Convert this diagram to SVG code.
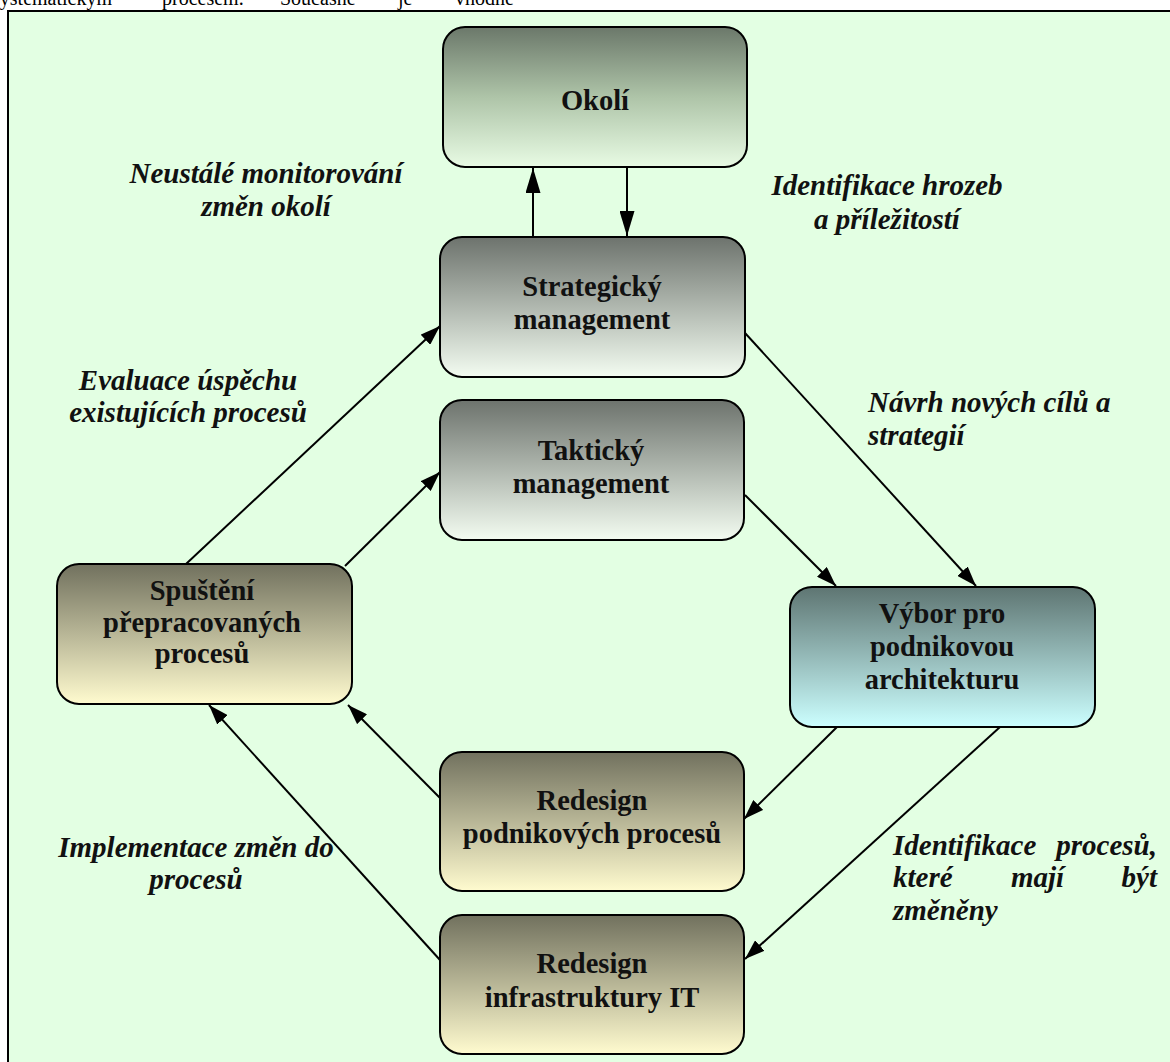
<svg xmlns="http://www.w3.org/2000/svg" width="1170" height="1062" viewBox="0 0 1170 1062">
<defs>
<linearGradient id="gOkoli" x1="0" y1="0" x2="0" y2="1"><stop offset="0" stop-color="#6B786A"/><stop offset="0.5" stop-color="#AEC4A8"/><stop offset="1" stop-color="#E8FBE4"/></linearGradient>
<linearGradient id="gMgmt" x1="0" y1="0" x2="0" y2="1"><stop offset="0" stop-color="#6D736D"/><stop offset="1" stop-color="#F3FCF1"/></linearGradient>
<linearGradient id="gOlive" x1="0" y1="0" x2="0" y2="1"><stop offset="0" stop-color="#71715E"/><stop offset="1" stop-color="#FFFBCF"/></linearGradient>
<linearGradient id="gTeal" x1="0" y1="0" x2="0" y2="1"><stop offset="0" stop-color="#5E7572"/><stop offset="1" stop-color="#CCFFFF"/></linearGradient>
<marker id="arr" markerUnits="userSpaceOnUse" markerWidth="20" markerHeight="14" refX="20" refY="7" orient="auto"><path d="M0,0 L20,7 L0,14 z" fill="#000"/></marker>
<marker id="arrL" markerUnits="userSpaceOnUse" markerWidth="25" markerHeight="15" refX="25" refY="7.5" orient="auto"><path d="M0,0 L25,7.5 L0,15 z" fill="#000"/></marker>
</defs>
<style>
.box{stroke:#000;stroke-width:2}
.nt{font-family:"Liberation Serif","Times New Roman",serif;font-weight:bold;font-size:28.5px;fill:#111;text-anchor:middle}
.lb{font-family:"Liberation Serif","Times New Roman",serif;font-weight:bold;font-style:italic;font-size:29px;fill:#111}
.doc{font-family:"Liberation Serif","Times New Roman",serif;font-size:20px;fill:#000}
.c{stroke:#000;stroke-width:2;fill:none}
</style>
<rect x="0" y="0" width="1170" height="1062" fill="#fff"/>
<g id="doctext" class="doc">
<text x="112" y="5" text-anchor="end">systematickým</text>
<text x="162" y="5">procesem.</text>
<text x="280" y="5">Současně</text>
<text x="398" y="5">je</text>
<text x="455" y="5">vhodné</text>
</g>
<rect id="frame" x="8" y="11" width="1170" height="1060" fill="#E3FFE3" stroke="#000" stroke-width="2"/>
<g id="connectors">
<line class="c" x1="533" y1="237" x2="533" y2="168" marker-end="url(#arrL)"/>
<line class="c" x1="627" y1="165" x2="627" y2="236" marker-end="url(#arrL)"/>
<line class="c" x1="745" y1="333" x2="976" y2="586" marker-end="url(#arr)"/>
<line class="c" x1="745" y1="495" x2="836" y2="586" marker-end="url(#arr)"/>
<line class="c" x1="186" y1="564" x2="440" y2="326" marker-end="url(#arr)"/>
<line class="c" x1="345" y1="566" x2="440" y2="472" marker-end="url(#arr)"/>
<line class="c" x1="837" y1="727" x2="744" y2="819" marker-end="url(#arr)"/>
<line class="c" x1="1000" y1="727" x2="745" y2="959" marker-end="url(#arr)"/>
<line class="c" x1="440" y1="798" x2="348" y2="705" marker-end="url(#arr)"/>
<line class="c" x1="440" y1="960" x2="209" y2="705" marker-end="url(#arr)"/>
</g>
<g id="okoli"><rect class="box" x="443" y="27" width="304" height="140" rx="22" fill="url(#gOkoli)"/><text class="nt" x="595" y="110">Okolí</text></g>
<g id="strategicky"><rect class="box" x="440" y="237" width="305" height="140" rx="22" fill="url(#gMgmt)"/><text class="nt" x="592" y="296">Strategický</text><text class="nt" x="592" y="329">management</text></g>
<g id="takticky"><rect class="box" x="440" y="400" width="304" height="140" rx="22" fill="url(#gMgmt)"/><text class="nt" x="591" y="460">Taktický</text><text class="nt" x="591" y="493">management</text></g>
<g id="spusteni"><rect class="box" x="57" y="564" width="295" height="140" rx="22" fill="url(#gOlive)"/><text class="nt" x="202" y="600">Spuštění</text><text class="nt" x="202" y="632">přepracovaných</text><text class="nt" x="202" y="663">procesů</text></g>
<g id="vybor"><rect class="box" x="790" y="587" width="305" height="140" rx="22" fill="url(#gTeal)"/><text class="nt" x="942" y="623">Výbor pro</text><text class="nt" x="942" y="656">podnikovou</text><text class="nt" x="942" y="689">architekturu</text></g>
<g id="redesign-procesu"><rect class="box" x="440" y="752" width="304" height="139" rx="22" fill="url(#gOlive)"/><text class="nt" x="592" y="810">Redesign</text><text class="nt" x="592" y="843">podnikových procesů</text></g>
<g id="redesign-it"><rect class="box" x="440" y="915" width="304" height="139" rx="22" fill="url(#gOlive)"/><text class="nt" x="592" y="973">Redesign</text><text class="nt" x="592" y="1007">infrastruktury IT</text></g>
<g id="labels" class="lb">
<text x="266" y="183" text-anchor="middle">Neustálé monitorování</text>
<text x="266" y="216" text-anchor="middle">změn okolí</text>
<text x="887" y="195" text-anchor="middle">Identifikace hrozeb</text>
<text x="887" y="229" text-anchor="middle">a příležitostí</text>
<text x="188" y="390" text-anchor="middle">Evaluace úspěchu</text>
<text x="188" y="422" text-anchor="middle">existujících procesů</text>
<text x="868" y="412">Návrh nových cílů a</text>
<text x="868" y="445">strategií</text>
<text x="196" y="857" text-anchor="middle">Implementace změn do</text>
<text x="196" y="889" text-anchor="middle">procesů</text>
<text x="893" y="855">Identifikace</text>
<text x="1157" y="855" text-anchor="end">procesů,</text>
<text x="893" y="887">které</text>
<text x="1011" y="887">mají</text>
<text x="1157" y="887" text-anchor="end">být</text>
<text x="893" y="920">změněny</text>
</g>
</svg>
